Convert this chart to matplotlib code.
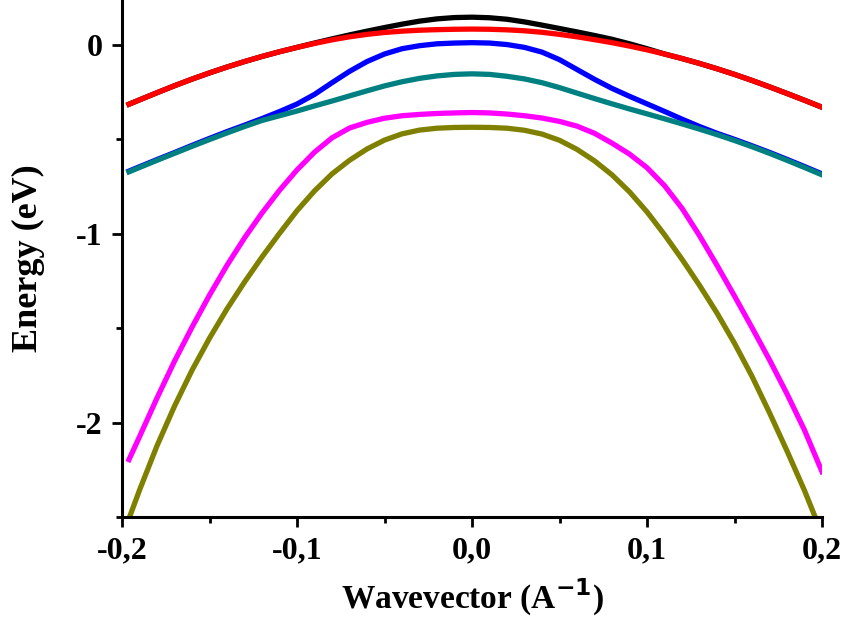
import matplotlib
matplotlib.use("Agg")
import matplotlib.pyplot as plt
from matplotlib.ticker import MultipleLocator

# wavevector grid (1/A)
k = [-0.196, -0.19, -0.18, -0.17, -0.16, -0.15, -0.14, -0.13, -0.12, -0.11,
     -0.10, -0.09, -0.08, -0.07, -0.06, -0.05, -0.04, -0.03, -0.02, -0.01,
     0.00, 0.01, 0.02, 0.03, 0.04, 0.05, 0.06, 0.07, 0.08, 0.09,
     0.10, 0.11, 0.12, 0.13, 0.14, 0.15, 0.16, 0.17, 0.18, 0.19, 0.20]

# band energies (eV)
e_black = [-0.314, -0.291, -0.253, -0.216, -0.181, -0.148, -0.117, -0.088, -0.061, -0.036,
           -0.013, 0.01, 0.032, 0.053, 0.073, 0.092, 0.11, 0.126, 0.138, 0.145,
           0.147, 0.144, 0.136, 0.122, 0.105, 0.087, 0.069, 0.05, 0.03, 0.006,
           -0.02, -0.048, -0.072, -0.098, -0.126, -0.156, -0.188, -0.222, -0.257, -0.293, -0.33]
e_red = [-0.314, -0.291, -0.253, -0.216, -0.181, -0.148, -0.117, -0.088, -0.061, -0.036,
         -0.013, 0.008, 0.027, 0.043, 0.056, 0.066, 0.073, 0.078, 0.081, 0.083,
         0.084, 0.083, 0.08, 0.075, 0.067, 0.056, 0.043, 0.028, 0.012, -0.006,
         -0.026, -0.048, -0.072, -0.098, -0.126, -0.156, -0.188, -0.222, -0.257, -0.293, -0.33]
e_blue = [-0.668, -0.645, -0.607, -0.57, -0.532, -0.495, -0.459, -0.425, -0.39, -0.353,
          -0.313, -0.262, -0.2, -0.14, -0.088, -0.048, -0.02, -0.004, 0.006, 0.01,
          0.012, 0.01, 0.002, -0.013, -0.038, -0.078, -0.13, -0.182, -0.23, -0.272,
          -0.312, -0.352, -0.393, -0.432, -0.468, -0.50, -0.534, -0.569, -0.606, -0.644, -0.683]
e_teal = [-0.672, -0.649, -0.611, -0.574, -0.537, -0.501, -0.466, -0.432, -0.40, -0.375,
          -0.35, -0.323, -0.297, -0.27, -0.243, -0.217, -0.195, -0.177, -0.164, -0.156,
          -0.153, -0.156, -0.166, -0.18, -0.20, -0.226, -0.255, -0.284, -0.312, -0.339,
          -0.365, -0.391, -0.418, -0.446, -0.475, -0.506, -0.539, -0.574, -0.611, -0.649, -0.688]
e_magenta = [-2.196, -2.075, -1.87, -1.675, -1.495, -1.325, -1.167, -1.022, -0.89, -0.77,
             -0.662, -0.568, -0.492, -0.44, -0.41, -0.388, -0.375, -0.368, -0.363, -0.36,
             -0.358, -0.36, -0.366, -0.375, -0.387, -0.405, -0.43, -0.468, -0.52, -0.578,
             -0.65, -0.745, -0.865, -1.01, -1.167, -1.33, -1.497, -1.668, -1.848, -2.04, -2.26]
e_olive = [-2.508, -2.358, -2.123, -1.913, -1.723, -1.553, -1.398, -1.256, -1.123, -0.998,
           -0.878, -0.773, -0.683, -0.611, -0.551, -0.504, -0.471, -0.451, -0.441, -0.437,
           -0.436, -0.437, -0.441, -0.452, -0.472, -0.505, -0.553, -0.614, -0.688, -0.778,
           -0.884, -1.005, -1.135, -1.273, -1.42, -1.58, -1.755, -1.948, -2.15, -2.36, -2.59]

x_ticks = [-0.2, -0.1, 0.0, 0.1, 0.2]
x_ticklabels = ["-0,2", "-0,1", "0,0", "0,1", "0,2"]
y_ticks = [0, -1, -2]
y_ticklabels = ["0", "-1", "-2"]

plt.rcParams["font.family"] = ["Liberation Serif", "DejaVu Serif"]
plt.rcParams["font.weight"] = "bold"

fig = plt.figure(figsize=(8.49, 6.23), dpi=100)
ax = fig.add_axes([122 / 849, 1 - 517 / 623, 700 / 849, 517 / 623])

lw = 3.8
ax.plot(k, e_black, color="black", lw=lw)
ax.plot(k, e_red, color="red", lw=lw)
ax.plot(k, e_blue, color="blue", lw=lw)
ax.plot(k, e_teal, color="#008080", lw=lw)
ax.plot(k, e_magenta, color="magenta", lw=lw)
ax.plot(k, e_olive, color="#808000", lw=lw)

ax.set_xlim(-0.2, 0.2)
ax.set_ylim(-2.5, 0.238)

ax.spines["top"].set_visible(False)
ax.spines["right"].set_visible(False)
for s in ("left", "bottom"):
    ax.spines[s].set_linewidth(2.2)

ax.set_xticks(x_ticks)
ax.set_xticklabels(x_ticklabels)
ax.set_yticks(y_ticks)
ax.set_yticklabels(y_ticklabels)
ax.xaxis.set_minor_locator(MultipleLocator(0.05))
ax.yaxis.set_minor_locator(MultipleLocator(0.5))
ax.tick_params(which="major", direction="out", length=7, width=2, labelsize=23, pad=7)
ax.tick_params(which="minor", direction="out", length=4, width=2)

ax.set_xlabel("Wavevector (A$^{\\mathbf{-1}}$)", fontsize=24, fontweight="bold", labelpad=8)
ax.set_ylabel("Energy (eV)", fontsize=26, fontweight="bold", labelpad=22)

fig.savefig("out.png", dpi=100)
